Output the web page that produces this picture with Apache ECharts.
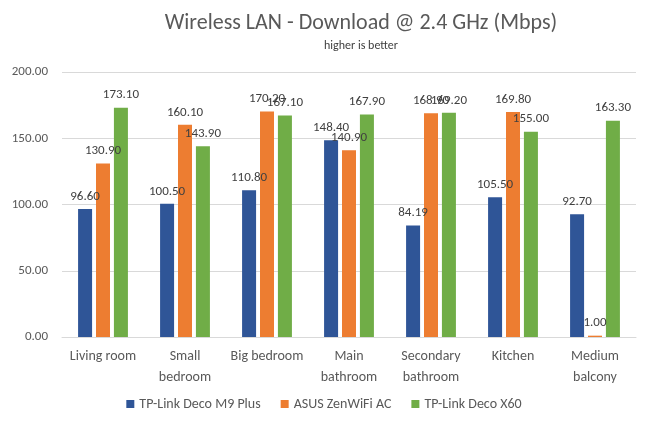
<!DOCTYPE html>
<html><head><meta charset="utf-8">
<script src="https://cdn.jsdelivr.net/npm/echarts@6/dist/echarts.min.js"></script>
<style>html,body{margin:0;padding:0;background:#fff}#c{width:648px;height:424px}</style>
</head><body><div id="c"></div>
<script>
const categories = ['Living room','Small\nbedroom','Big bedroom','Main\nbathroom','Secondary\nbathroom','Kitchen','Medium\nbalcony'];
const seriesNames = ['TP-Link Deco M9 Plus','ASUS ZenWiFi AC','TP-Link Deco X60'];
const decoM9 = [96.60,100.50,110.80,148.40,84.19,105.50,92.70];
const zenWifi = [130.90,160.10,170.20,140.90,168.90,169.80,1.00];
const decoX60 = [173.10,143.90,167.10,167.90,169.20,155.00,163.30];
const yTicks = {min:0,max:200,interval:50};
const colors = ['#2F5597','#ED7D31','#70AD47'];

const FF = 'Calibri, Carlito, Lato, "Liberation Sans", sans-serif';
const chart = echarts.init(document.getElementById('c'));
const lbl = {show:true,position:'top',distance:6,color:'#404040',fontSize:13,fontFamily:FF,formatter:p=>p.value.toFixed(2)};
const mk = (name,data,i)=>({name,type:'bar',data,barWidth:14,barGap:'28%',itemStyle:{color:colors[i]},label:lbl});
chart.setOption({
  animation:false,
  title:{text:'Wireless LAN - Download @ 2.4 GHz (Mbps)',subtext:'higher is better',left:356,textAlign:'center',top:7,itemGap:6,
    textStyle:{fontSize:22,fontWeight:'normal',color:'#595959',fontFamily:FF},
    subtextStyle:{fontSize:12,color:'#404040',fontFamily:FF}},
  legend:{bottom:8,left:'center',itemWidth:8,itemHeight:8,itemGap:20,icon:'rect',
    textStyle:{fontSize:14,color:'#595959',fontFamily:FF}},
  grid:{left:62,right:12,top:72,bottom:87},
  xAxis:{type:'category',data:categories,axisTick:{show:false},axisLine:{lineStyle:{color:'#D9D9D9'}},
    axisLabel:{color:'#595959',fontSize:14,margin:9,lineHeight:21,interval:0,fontFamily:FF}},
  yAxis:{type:'value',min:yTicks.min,max:yTicks.max,interval:yTicks.interval,axisLine:{show:false},axisTick:{show:false},
    splitLine:{lineStyle:{color:'#D9D9D9'}},
    axisLabel:{color:'#595959',fontSize:13,margin:14,formatter:v=>v.toFixed(2),fontFamily:FF}},
  series:[mk(seriesNames[0],decoM9,0),mk(seriesNames[1],zenWifi,1),mk(seriesNames[2],decoX60,2)]
});
</script></body></html>
